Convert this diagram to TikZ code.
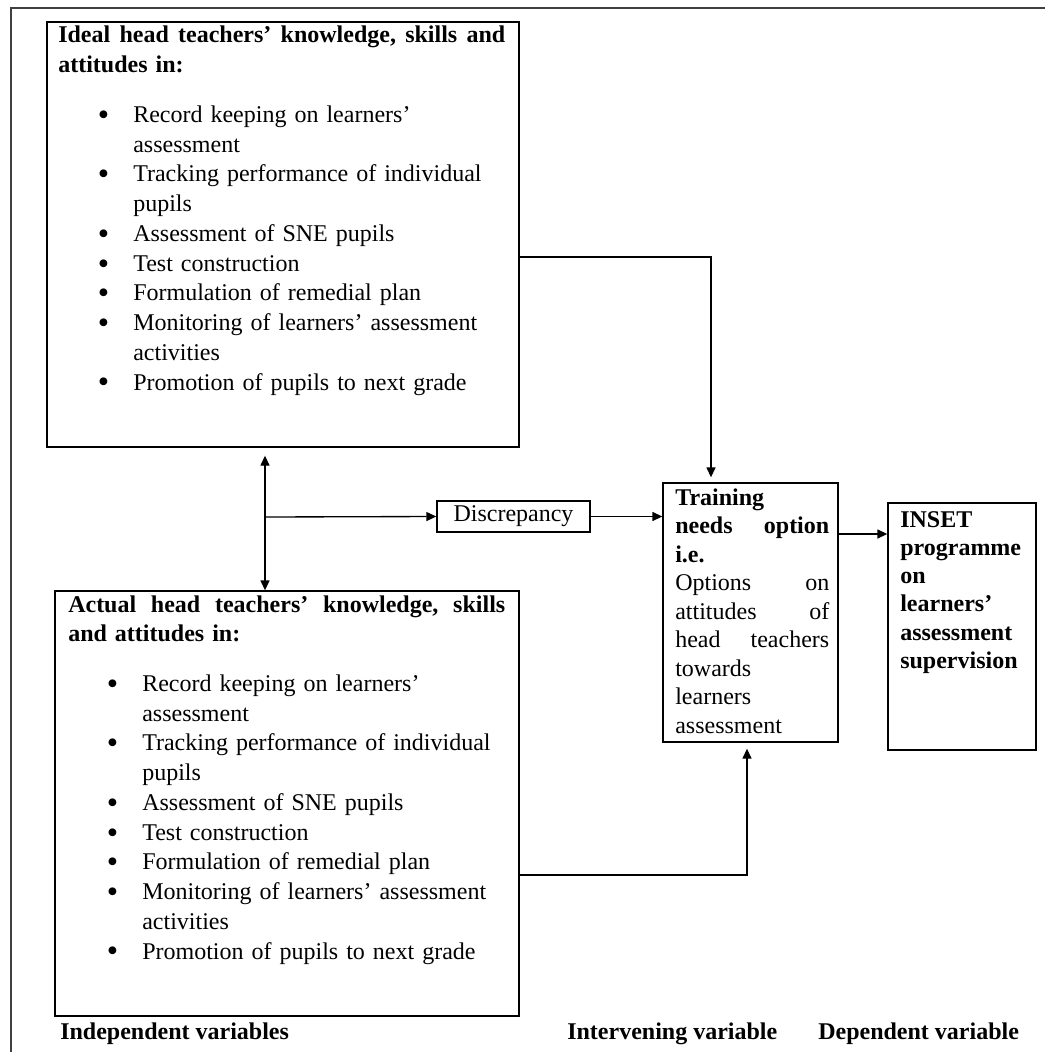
\documentclass[tikz,border=0pt]{standalone}
\usepackage{fontspec}
\setmainfont{Liberation Serif}
\usetikzlibrary{arrows.meta,calc}
\newlength\px \setlength\px{0.75pt}
\tikzset{
  box/.style={draw, line width=1pt, inner sep=0pt, rectangle},
  txt/.style={inner sep=0pt, anchor=base west, align=left, font=\fontsize{18}{22.3}\selectfont},
  conn/.style={line width=1pt, -{Triangle[length=7.5pt,width=6.75pt]}},
  dconn/.style={line width=1pt, {Triangle[length=7.5pt,width=6.75pt]}-{Triangle[length=7.5pt,width=6.75pt]}},
}
\newcommand\bul{\par\noindent\llap{\smash{\raisebox{-0.12em}{\scalebox{1.35}{\textbullet}}}\hspace{24\px}}}
\newcommand\jf{\hspace{0pt plus 1fil}}
\newcommand\jline[2]{\leavevmode\hbox to #1{#2}}
\begin{document}
\begin{tikzpicture}[x=0.75pt,y=-0.75pt]
\useasboundingbox (0,0) rectangle (1045,1052);
% outer frame (top and left edges)
\draw[line width=1pt, black!75] (11,1052) -- (11,8) -- (1045,8);

% boxes
\node[box, minimum width=354pt, minimum height=318.75pt] (ideal) at (283,234.5) {};
\node[box, minimum width=348pt, minimum height=318.75pt] (actual) at (287,803.5) {};
\node[box, minimum width=114.75pt, minimum height=23.25pt, font=\fontsize{18}{22.3}\selectfont] (disc) at (513.5,516.5) {Discrepancy\hspace{9pt}};
\node[box, minimum width=131.25pt, minimum height=194.25pt] (train) at (750.5,612.5) {};
\node[box, minimum width=111pt, minimum height=185.25pt] (inset) at (962,626.5) {};

% ideal text
\node[txt, text width=335.25pt] (idealtxt) at (58,43) {%
\jline{447\px}{\bfseries Ideal\jf head\jf teachers’\jf knowledge,\jf skills\jf and}\\
\textbf{attitudes in:}\par
\vspace{20\px}
\leftskip=75\px
\bul Record keeping on learners’\\assessment
\bul Tracking performance of individual\\pupils
\bul Assessment of SNE pupils
\bul Test construction
\bul Formulation of remedial plan
\bul Monitoring of learners’ assessment\\activities
\bul Promotion of pupils to next grade\par};

% actual text
\node[txt, text width=327.75pt] (actualtxt) at (68,612) {%
\jline{437\px}{\bfseries Actual\jf head\jf teachers’\jf knowledge,\jf skills}\\
\textbf{and attitudes in:}\par
\vspace{20\px}
\leftskip=74\px
\bul Record keeping on learners’\\assessment
\bul Tracking performance of individual\\pupils
\bul Assessment of SNE pupils
\bul Test construction
\bul Formulation of remedial plan
\bul Monitoring of learners’ assessment\\activities
\bul Promotion of pupils to next grade\par};

% training text
\node[txt, text width=115.5pt, font=\fontsize{18}{21.4}\selectfont] (traintxt) at (675,505) {%
\textbf{Training}\\
\jline{154\px}{\bfseries needs\jf option}\\
\textbf{i.e.}\\
\jline{154\px}{Options\jf on}\\
\jline{154\px}{attitudes\jf of}\\
\jline{154\px}{head\jf teachers}\\
towards\\
learners\\
assessment};

% inset text
\node[txt, text width=101pt, font=\fontsize{18}{21.2}\selectfont\bfseries] (insettxt) at (900,527) {%
INSET\\programme\\on\\learners’\\assessment\\supervision};

% bottom labels
\node[txt, font=\fontsize{18}{22.3}\selectfont\bfseries] (lind) at (60,1039) {Independent variables};
\node[txt, font=\fontsize{18}{22.3}\selectfont\bfseries] (lint) at (567,1039) {Intervening variable};
\node[txt, font=\fontsize{18}{22.3}\selectfont\bfseries] (ldep) at (818,1039) {Dependent variable};

% connectors
\coordinate (vx) at (265,517);
\draw[dconn, shorten <=6pt] (ideal.south -| vx) -- (actual.north -| vx);
\draw[conn] (vx) -- (disc.west);
\draw[conn] (disc.east) -- (disc.east -| train.west);
\coordinate (ti) at (0,534);
\draw[conn] (train.east |- ti) -- (inset.west |- ti);
\coordinate (iy) at (0,257);
\coordinate (ix) at (711,0);
\draw[conn, shorten >=3.75pt] (ideal.east |- iy) -| (train.north -| ix);
\coordinate (ay) at (0,875);
\coordinate (ax) at (747,0);
\draw[conn, shorten >=4.5pt] (actual.east |- ay) -| (train.south -| ax);
\end{tikzpicture}
\end{document}
